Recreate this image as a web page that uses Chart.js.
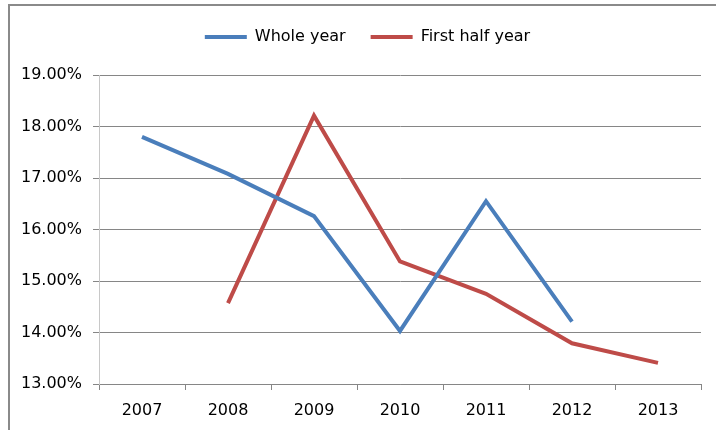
<!DOCTYPE html>
<html>
<head>
<meta charset="utf-8">
<script src="https://cdnjs.cloudflare.com/ajax/libs/Chart.js/4.4.1/chart.umd.min.js"></script>
<style>
	html, body { margin: 0; padding: 0; background: #fff; overflow: hidden; }
	.frame { position: absolute; left: 8px; top: 4px; width: 760px; height: 480px; border: 2px solid #8a8a8a; }
	.wrap { position: absolute; left: 0; top: 0; width: 716px; height: 430px; }
</style>
</head>
<body>
<div class="frame"></div>
<div class="wrap"><canvas id="chart"></canvas></div>
<script type="text/javascript">
	let years = ["2007", "2008", "2009", "2010", "2011", "2012", "2013"]
	let wholeYear = [17.80, 17.08, 16.26, 14.03, 16.55, 14.21, null]
	let firstHalf = [null, 14.57, 18.21, 15.38, 14.75, 13.79, 13.41]
	let yTicks = [13, 14, 15, 16, 17, 18, 19]

	let colors = {
		blue: "#4a7ebb",
		red: "#be4b48",
		grid: "#868686",
	}

	Chart.defaults.font.family = "'DejaVu Sans', sans-serif"
	Chart.defaults.font.size = 16
	Chart.defaults.color = "#000"

	// the legend sits a bit right of the canvas centre in the original
	let legendShift = {
		id: "legendShift",
		afterLayout: function(chart) {
			if(chart.legend) {
				chart.legend.left += 17
				chart.legend.right += 17
			}
		},
	}

	let elem = document.querySelector("#chart")
	let chart = new Chart(elem, {
		type: "line",
		plugins: [legendShift],
		data: {
			labels: years,
			datasets: [{
				label: "Whole year",
				data: wholeYear,
				borderColor: colors.blue,
				backgroundColor: colors.blue,
				borderWidth: 4,
				pointRadius: 0,
				tension: 0,
			}, {
				label: "First half year",
				data: firstHalf,
				borderColor: colors.red,
				backgroundColor: colors.red,
				borderWidth: 4,
				pointRadius: 0,
				tension: 0,
			}],
		},
		options: {
			responsive: true,
			maintainAspectRatio: false,
			animation: false,
			layout: {
				padding: { top: 4, right: 15, bottom: 0, left: 0 },
			},
			plugins: {
				legend: {
					position: "top",
					labels: {
						usePointStyle: true,
						pointStyle: "line",
						pointStyleWidth: 42,
						padding: 25,
						color: "#000",
					},
				},
				// empty title used only as a gap between legend and plot
				title: {
					display: true,
					text: "",
					weight: 500,
					font: { size: 10 },
					padding: { top: 0, bottom: 8 },
				},
				tooltip: { enabled: false },
			},
			scales: {
				x: {
					offset: true,
					grid: {
						offset: true,
						drawOnChartArea: false,
						drawTicks: true,
						tickLength: 6,
						color: colors.grid,
					},
					border: { color: colors.grid, width: 1 },
					ticks: { padding: 11 },
					afterFit: function(scale) {
						scale.height = 46
					},
				},
				y: {
					min: yTicks[0],
					max: yTicks[yTicks.length - 1],
					afterBuildTicks: function(scale) {
						scale.ticks = yTicks.map(function(v) {
							return { value: v }
						})
					},
					grid: {
						color: colors.grid,
						tickLength: 6,
					},
					border: { color: "#c8c8c8", width: 1 },
					ticks: {
						padding: 11,
						callback: function(v) {
							return v.toFixed(2) + "%"
						},
					},
					afterFit: function(scale) {
						scale.width = 99
					},
				},
			},
		},
	})
</script>
</body>
</html>
